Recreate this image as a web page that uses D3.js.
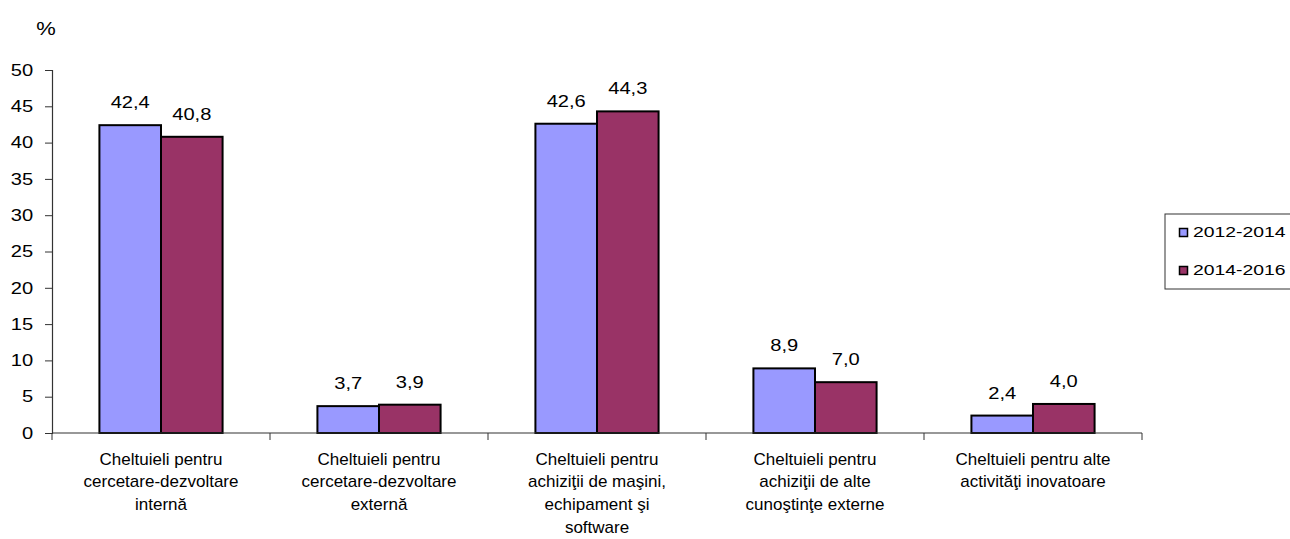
<!DOCTYPE html>
<html>
<head>
<meta charset="utf-8">
<script src="https://cdn.jsdelivr.net/npm/d3@7"></script>
<style>
  body { margin: 0; background: #fff; }
  svg text { font-family: "Liberation Sans", Arial, sans-serif; fill: #000; }
</style>
</head>
<body>
<svg id="chart" width="1290" height="539"></svg>
<script>
"use strict";

const categories = [
    ["Cheltuieli pentru", "cercetare-dezvoltare", "internă"],
    ["Cheltuieli pentru", "cercetare-dezvoltare", "externă"],
    ["Cheltuieli pentru", "achiziţii de maşini,", "echipament şi", "software"],
    ["Cheltuieli pentru", "achiziţii de alte", "cunoştinţe externe"],
    ["Cheltuieli pentru alte", "activităţi inovatoare"]
];
const seriesNames = ["2012-2014", "2014-2016"];
const values2012 = [42.4, 3.7, 42.6, 8.9, 2.4];
const values2014 = [40.8, 3.9, 44.3, 7.0, 4.0];
const yTicks = [0, 5, 10, 15, 20, 25, 30, 35, 40, 45, 50];
const colors = ["#9999ff", "#993366"];

const size = {left: 52, right: 1142, top: 70, bottom: 433};
// numbers in the original look stretched sideways
const stretch = "scale(1.22,1)";
const svg = d3.select("#chart");

const x = d3.scaleBand()
    .domain(d3.range(categories.length))
    .range([size.left, size.right])
    .paddingInner(0)
    .paddingOuter(0);
const xInner = d3.scaleBand()
    .domain(d3.range(seriesNames.length))
    .range([0, x.bandwidth()])
    .paddingOuter(0.77);
const y = d3.scaleLinear().domain([0, 50]).range([size.bottom, size.top]);

// y axis
const yAxis = svg.append("g")
    .attr("transform", "translate(" + size.left + ",0)")
    .call(d3.axisLeft(y).tickValues(yTicks).tickSize(7).tickPadding(8));
yAxis.select(".domain").attr("stroke", "#333").attr("stroke-width", 1.2);
yAxis.selectAll(".tick line").attr("stroke", "#333");
yAxis.selectAll(".tick text")
    .attr("x", -15.5)
    .attr("transform", stretch)
    .style("font-size", "16.5px")
    .attr("fill", "#000");

svg.append("text")
    .attr("transform", "translate(46,35) " + stretch)
    .attr("text-anchor", "middle")
    .style("font-size", "18px")
    .text("%");

// bars
const series = [values2012, values2014];
const groups = svg.append("g").selectAll("g")
    .data(categories.map((c, i) => i))
    .join("g")
    .attr("transform", d => "translate(" + x(d) + ",0)");

groups.selectAll("rect")
    .data(d => series.map((s, k) => ({k: k, v: s[d]})))
    .join("rect")
    .attr("x", d => xInner(d.k))
    .attr("width", xInner.bandwidth())
    .attr("y", d => y(d.v))
    .attr("height", d => y(0) - y(d.v))
    .attr("fill", d => colors[d.k])
    .attr("stroke", "#000")
    .attr("stroke-width", 2);

groups.selectAll("text.val")
    .data(d => series.map((s, k) => ({k: k, v: s[d]})))
    .join("text")
    .attr("class", "val")
    .attr("transform", d => "translate(" + (xInner(d.k) + xInner.bandwidth() / 2) + "," + (y(d.v) - 17) + ") " + stretch)
    .attr("text-anchor", "middle")
    .style("font-size", "16.5px")
    .text(d => d.v.toFixed(1).replace(".", ","));

// x axis
const xAxis = svg.append("g")
    .attr("transform", "translate(0," + size.bottom + ")");
xAxis.append("line")
    .attr("x1", size.left).attr("x2", size.right)
    .attr("stroke", "#333").attr("stroke-width", 1.2);
xAxis.selectAll("line.tick")
    .data(d3.range(categories.length + 1))
    .join("line")
    .attr("class", "tick")
    .attr("x1", d => size.left + d * x.step())
    .attr("x2", d => size.left + d * x.step())
    .attr("y1", 0).attr("y2", 7)
    .attr("stroke", "#333");

xAxis.selectAll("text.cat")
    .data(categories)
    .join("text")
    .attr("class", "cat")
    .attr("text-anchor", "middle")
    .style("font-size", "17px")
    .attr("fill", "#222")
    .each(function(lines, i) {
        d3.select(this).selectAll("tspan")
            .data(lines)
            .join("tspan")
            .attr("x", x(i) + x.bandwidth() / 2)
            .attr("y", (l, j) => 31.5 + j * 22.7)
            .text(l => l);
    });

// legend
const legend = svg.append("g").attr("transform", "translate(1165,214)");
legend.append("rect")
    .attr("width", 140).attr("height", 75)
    .attr("fill", "#fff").attr("stroke", "#333").attr("stroke-width", 1);
seriesNames.forEach((name, k) => {
    legend.append("rect")
        .attr("x", 14.5).attr("y", 14.5 + k * 38)
        .attr("width", 8).attr("height", 8)
        .attr("fill", colors[k]).attr("stroke", "#000").attr("stroke-width", 1.5);
    legend.append("text")
        .attr("transform", "translate(28," + (23 + k * 38) + ") scale(1.25,1)")
        .style("font-size", "15.5px")
        .text(name);
});
</script>
</body>
</html>
